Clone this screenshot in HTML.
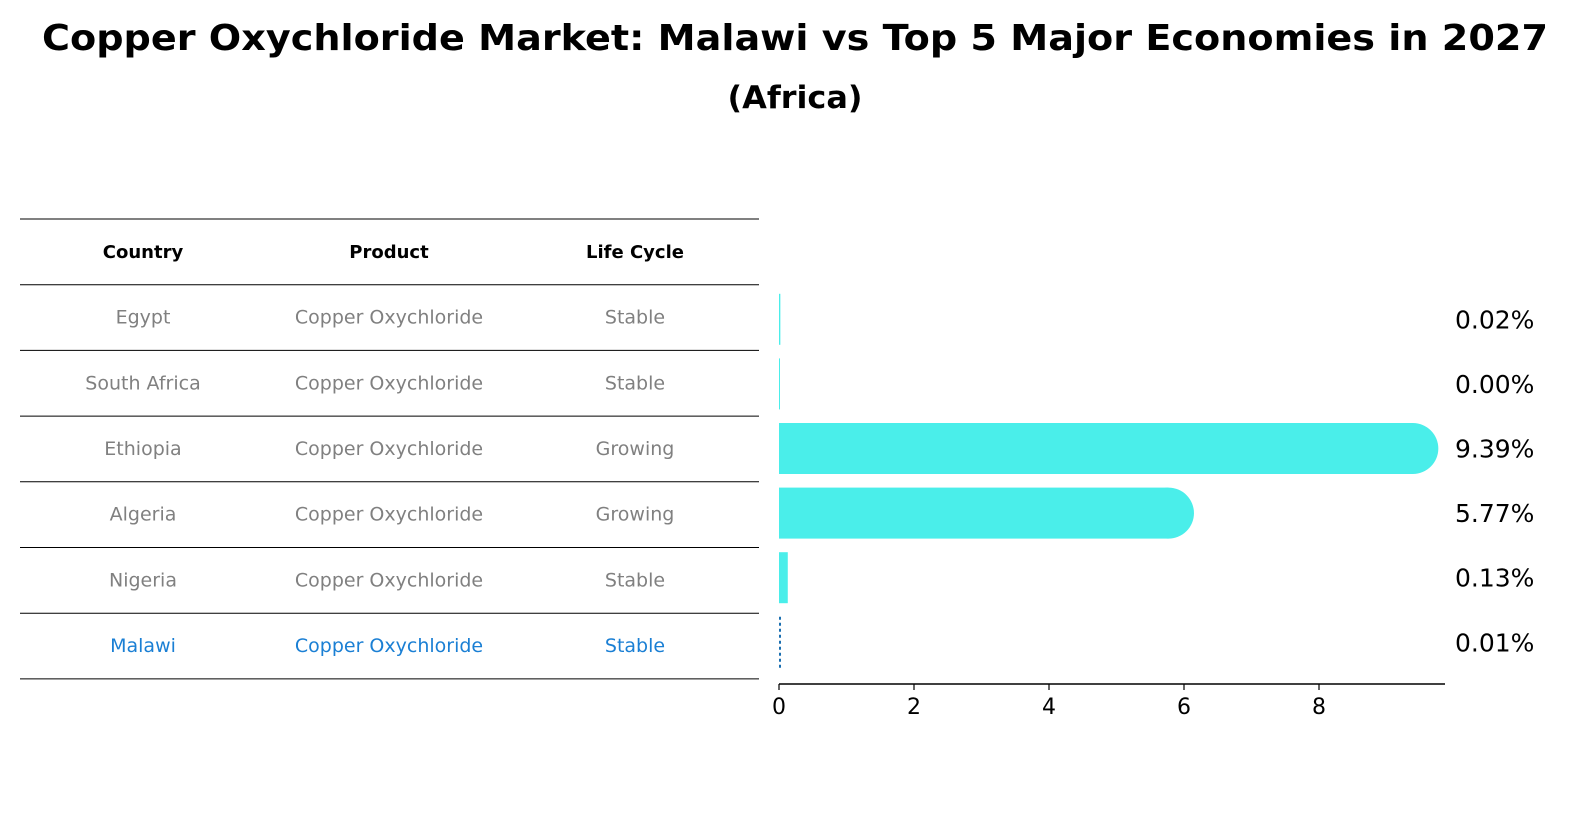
<!DOCTYPE html>
<html><head><meta charset="utf-8">
<style>
html,body{margin:0;padding:0;background:#fff;overflow:hidden;width:1594px;height:823px;}
svg{display:block;}
svg text{font-family:"DejaVu Sans","Liberation Sans",sans-serif;}
</style></head>
<body>
<svg width="1594" height="823" viewBox="0 0 1594 823" xmlns="http://www.w3.org/2000/svg">
<text x="795" y="50" text-anchor="middle" font-size="36" font-weight="bold" textLength="1506" lengthAdjust="spacingAndGlyphs">Copper Oxychloride Market: Malawi vs Top 5 Major Economies in 2027</text>
<text x="795" y="108" text-anchor="middle" font-size="31" font-weight="bold" textLength="135" lengthAdjust="spacingAndGlyphs">(Africa)</text>
<g id="table"></g>
<g id="bars"></g>
</svg>
<script>
const countries=["Egypt","South Africa","Ethiopia","Algeria","Nigeria","Malawi"];
const products=["Copper Oxychloride","Copper Oxychloride","Copper Oxychloride","Copper Oxychloride","Copper Oxychloride","Copper Oxychloride"];
const lifeCycles=["Stable","Stable","Growing","Growing","Stable","Stable"];
const shares=[0.02,0.00,9.39,5.77,0.13,0.01];
const shareLabels=["0.02%","0.00%","9.39%","5.77%","0.13%","0.01%"];
const xTicks=[0,2,4,6,8];
const NS="http://www.w3.org/2000/svg";
function mk(t,a,p){const e=document.createElementNS(NS,t);for(const k in a)e.setAttribute(k,a[k]);p.appendChild(e);return e;}
const tbl=document.getElementById('table'),bars=document.getElementById('bars');
const rowTop=219,rowH=65.7,colX=[143,389,635];
function lineAt(y){const l=mk('line',{x1:20,x2:759,y1:y,y2:y,stroke:'#000','stroke-width':1},tbl);

}
lineAt(rowTop);
["Country","Product","Life Cycle"].forEach((h,i)=>{const t=mk('text',{x:colX[i],y:rowTop+rowH/2+6,'text-anchor':'middle','font-size':18,'font-weight':'bold'},tbl);t.textContent=h;

});
lineAt(rowTop+rowH);
countries.forEach((c,r)=>{const cy=rowTop+rowH*(r+1)+rowH/2+6;const col=c==="Malawi"?"#1a7fd4":"#808080";
[c,products[r],lifeCycles[r]].forEach((v,i)=>{const t=mk('text',{x:colX[i],y:cy,'text-anchor':'middle','font-size':19,fill:col},tbl);t.textContent=v;

});
lineAt(rowTop+rowH*(r+2));});
const x0=779,pxPer=67.5;const X=v=>x0+v*pxPer;
const bandTop=286,bandH=64.6,barH=51;
shares.forEach((v,i)=>{const cy=bandTop+bandH*i+bandH/2+1;const w=Math.max(X(v)-x0,1);
if(countries[i]==="Malawi"){const l=mk('line',{x1:x0+1,x2:x0+1,y1:cy-barH/2,y2:cy+barH/2,stroke:'#1a6fb0','stroke-width':2,'stroke-dasharray':'3,3'},bars);

}
else{const r=mk('rect',{x:x0,y:cy-barH/2,width:w,height:barH,fill:'#4aeeea'},bars);


if(v>1){const c=mk('circle',{cx:X(v),cy:cy,r:barH/2,fill:'#4aeeea'},bars);

}}
const t=mk('text',{x:1455,y:cy+9,'font-size':25},bars);t.textContent=shareLabels[i];

});
const ax=mk('line',{x1:x0,x2:1445,y1:684,y2:684,stroke:'#000','stroke-width':1.5},bars);


xTicks.forEach(v=>{const l=mk('line',{x1:X(v),x2:X(v),y1:684,y2:690,stroke:'#000','stroke-width':1.2},bars);


const t=mk('text',{x:X(v),y:714,'text-anchor':'middle','font-size':22},bars);t.textContent=v;

});
</script>
</body></html>
